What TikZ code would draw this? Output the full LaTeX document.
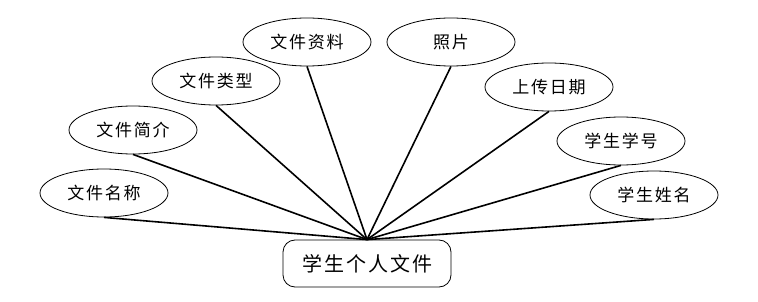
\documentclass[tikz,border=0pt]{standalone}
\usepackage{fontspec}
\newfontfamily\cjk[LetterSpace=10]{Noto Sans CJK SC}
\usetikzlibrary{shapes.geometric}
\begin{document}
\begin{tikzpicture}[x=1pt,y=-1pt,
  attr/.style={ellipse,draw,line width=0.8pt,minimum width=128pt,minimum height=48pt,inner sep=0pt,font=\cjk\fontsize{17}{17}\selectfont},
  ent/.style={rectangle,rounded corners=12pt,draw,line width=0.8pt,minimum width=168pt,minimum height=47pt,inner sep=0pt,font=\cjk\fontsize{20}{20}\selectfont},
  link/.style={line width=1.6pt}]
\useasboundingbox (0,0) rectangle (758,302);
\node[ent] (e) at (367,263.5) {学生个人文件};
\node[attr] (a1) at (104,193) {文件名称};
\node[attr] (a2) at (133,130) {文件简介};
\node[attr] (a3) at (216,81) {文件类型};
\node[attr] (a4) at (307,42) {文件资料};
\node[attr] (a5) at (451,42) {照片};
\node[attr] (a6) at (549,87) {上传日期};
\node[attr] (a7) at (621,141) {学生学号};
\node[attr] (a8) at (654,195) {学生姓名};
\foreach \n in {a1,a2,a3,a4,a5,a6,a7,a8}
  \draw[link] (\n.south) -- (e.north);
\end{tikzpicture}
\end{document}
